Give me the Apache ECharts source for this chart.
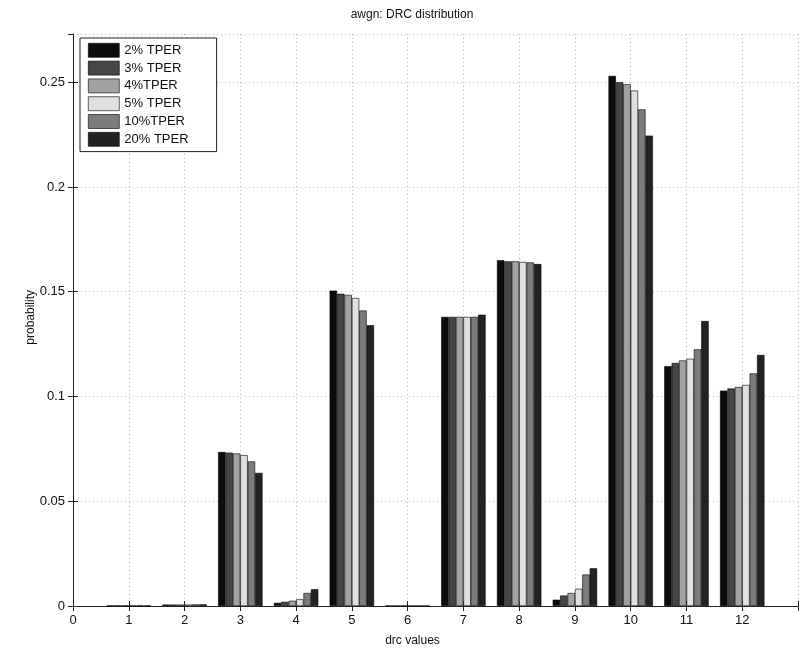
<!DOCTYPE html>
<html>
<head>
<meta charset="utf-8">
<script src="https://cdn.jsdelivr.net/npm/echarts@6/dist/echarts.min.js"></script>
<style>
  html, body { margin: 0; padding: 0; background: #fff; }
  #chart { width: 801px; height: 656px; }
</style>
</head>
<body>
<div id="chart"></div>
<script>
// DRC values on the x axis
const drcValues = [1, 2, 3, 4, 5, 6, 7, 8, 9, 10, 11, 12];

// Probability of each DRC value, one array per TPER setting
const seriesNames = ['2% TPER', '3% TPER', '4%TPER', '5% TPER', '10%TPER', '20% TPER'];
const tper2  = [0.0002, 0.0007, 0.0735, 0.0015, 0.1505, 0.0001, 0.1380, 0.1650, 0.0030, 0.2530, 0.1145, 0.1028];
const tper3  = [0.0002, 0.0007, 0.0732, 0.0020, 0.1490, 0.0001, 0.1380, 0.1645, 0.0050, 0.2500, 0.1160, 0.1038];
const tper4  = [0.0002, 0.0007, 0.0728, 0.0025, 0.1485, 0.0001, 0.1380, 0.1645, 0.0062, 0.2490, 0.1172, 0.1045];
const tper5  = [0.0002, 0.0007, 0.0720, 0.0032, 0.1470, 0.0001, 0.1380, 0.1642, 0.0082, 0.2460, 0.1180, 0.1055];
const tper10 = [0.0002, 0.0008, 0.0690, 0.0062, 0.1410, 0.0001, 0.1380, 0.1640, 0.0150, 0.2370, 0.1225, 0.1110];
const tper20 = [0.0002, 0.0008, 0.0635, 0.0080, 0.1340, 0.0001, 0.1390, 0.1632, 0.0180, 0.2245, 0.1360, 0.1198];

// Axis ticks
const yTicks = [0, 0.05, 0.1, 0.15, 0.2, 0.25];
const xTickMax = 12;

const fills = ['#0c0c0c', '#464646', '#a2a2a2', '#e0e0e0', '#7c7c7c', '#222222'];
const allValues = [tper2, tper3, tper4, tper5, tper10, tper20];

const font = 'Liberation Sans, Arial, sans-serif';

const chart = echarts.init(document.getElementById('chart'), null, { renderer: 'canvas' });

const gridLine = { show: true, lineStyle: { color: '#b8b8b8', type: [1, 3], width: 1 } };

const series = allValues.map((vals, i) => ({
  name: seriesNames[i],
  type: 'bar',
  xAxisIndex: 0,
  yAxisIndex: 0,
  barWidth: 7.4,
  barGap: '0%',
  data: drcValues.map((d, k) => [d, vals[k]]),
  itemStyle: { color: fills[i], borderColor: '#000', borderWidth: 0.6 },
  emphasis: { disabled: true }
}));

chart.setOption({
  animation: false,
  backgroundColor: '#fff',
  title: {
    text: 'awgn: DRC distribution',
    left: 407, top: 4, textAlign: 'center',
    textStyle: { fontFamily: font, fontSize: 12, fontWeight: 'normal', color: '#111' }
  },
  legend: {
    orient: 'vertical',
    left: 80, top: 38,
    data: seriesNames,
    icon: 'rect',
    itemWidth: 31, itemHeight: 14,
    itemGap: 3.2,
    padding: [5, 28, 5, 8],
    backgroundColor: '#fff',
    borderColor: '#222', borderWidth: 1,
    textStyle: { fontFamily: font, fontSize: 13, color: '#111' },
    itemStyle: { borderColor: '#000', borderWidth: 0.6 }
  },
  grid: { left: 73, right: 2, top: 34, bottom: 50, containLabel: false },
  xAxis: [
    {
      type: 'value', position: 'bottom', min: 0, max: 13, interval: 1,
      name: 'drc values', nameLocation: 'middle', nameGap: 29,
      nameTextStyle: { fontFamily: font, fontSize: 12, color: '#111', padding: [0, 0, 0, -46] },
      axisLine: { show: true, lineStyle: { color: '#222', width: 1 } },
      axisTick: { show: true, inside: true, length: 5, lineStyle: { color: '#222' } },
      axisLabel: {
        fontFamily: font, fontSize: 13, color: '#111', margin: 8,
        formatter: v => (v <= xTickMax ? String(v) : '')
      },
      splitLine: gridLine
    },
    {
      type: 'value', position: 'top', min: 0, max: 13, interval: 1,
      axisLine: { show: true, lineStyle: { color: '#222', width: 1 } },
      axisTick: { show: true, inside: true, length: 5, lineStyle: { color: '#222' } },
      axisLabel: { show: false },
      splitLine: { show: false }
    }
  ],
  yAxis: [
    {
      type: 'value', position: 'left', min: 0, max: 0.273, interval: 0.05,
      axisLine: { show: true, lineStyle: { color: '#222', width: 1 } },
      axisTick: { show: true, inside: true, length: 5, lineStyle: { color: '#222' } },
      axisLabel: {
        fontFamily: font, fontSize: 13, color: '#111', margin: 8,
        showMaxLabel: false,
        formatter: v => (yTicks.some(t => Math.abs(t - v) < 1e-9) ? String(+v.toFixed(2)) : '')
      },
      splitLine: gridLine
    },
    {
      type: 'value', position: 'right', min: 0, max: 0.273, interval: 0.05,
      axisLine: { show: true, lineStyle: { color: '#222', width: 1 } },
      axisTick: { show: true, inside: true, length: 5, lineStyle: { color: '#222' } },
      axisLabel: { show: false },
      splitLine: { show: false }
    }
  ],
  graphic: [
    {
      type: 'text', left: 25, top: 290, rotation: Math.PI / 2,
      style: { text: 'probability', fontFamily: font, fontSize: 12, fill: '#111',
               align: 'center', verticalAlign: 'middle' }
    }
  ],
  series: series
});
</script>
</body>
</html>
